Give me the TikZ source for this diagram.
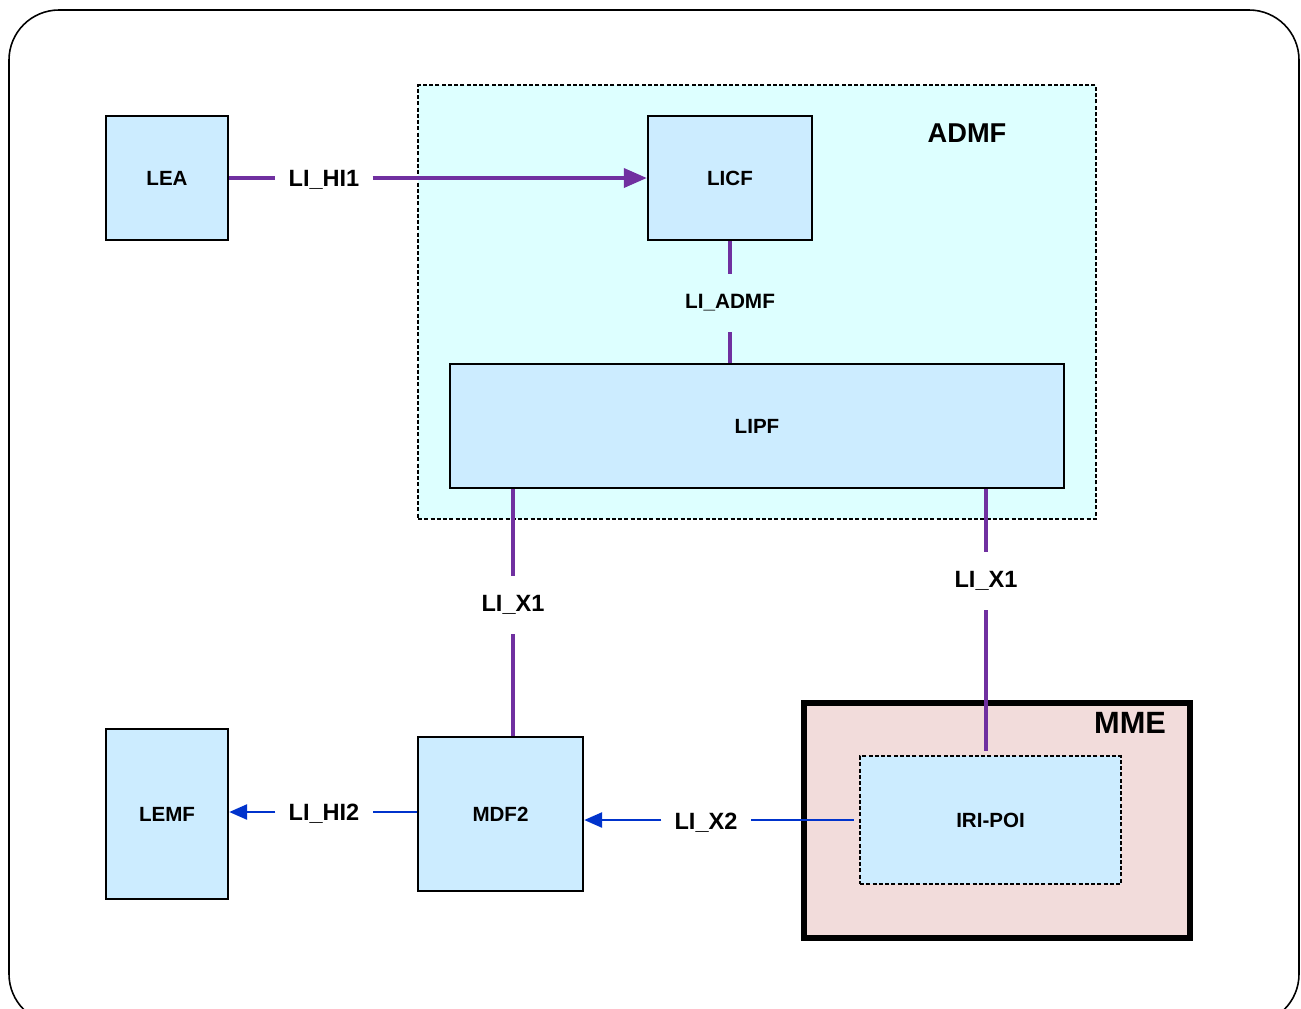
\documentclass[tikz,border=0pt]{standalone}
\usepackage{fontspec}
\setmainfont{Liberation Sans}
\usetikzlibrary{arrows.meta}
\definecolor{boxfill}{HTML}{CCECFF}
\definecolor{admffill}{HTML}{DDFFFF}
\definecolor{mmefill}{HTML}{F2DCDB}
\definecolor{lipurple}{HTML}{7030A0}
\definecolor{liblue}{HTML}{0033CC}
\tikzset{
  fbox/.style={draw=black, line width=1.35pt, fill=boxfill, font=\bfseries\fontsize{11.7}{14}\selectfont, inner sep=0pt},
  dotbox/.style={draw=black, line width=1.4pt, dash pattern=on 0.08cm off 0.045cm, inner sep=0pt},
  hlbl/.style={font=\bfseries\fontsize{13.4}{16}\selectfont, inner xsep=0.26cm, inner ysep=2pt},
  vlbl/.style={font=\bfseries\fontsize{13.4}{16}\selectfont, minimum height=1.16cm, inner sep=1pt},
  pline/.style={draw=lipurple, line width=2.1pt},
  bline/.style={draw=liblue, line width=1.5pt},
  parrow/.style={pline, -{Triangle[length=0.46cm,width=0.38cm]}},
  barrow/.style={bline, -{Triangle[length=0.36cm,width=0.3cm]}},
}
\begin{document}
\begin{tikzpicture}[x=0.02cm, y=-0.02cm]
\useasboundingbox (0,0) rectangle (1301,1008);
\clip (0,0) rectangle (1301,1008);
\draw[line width=0.9pt, rounded corners=1cm] (9,10) rectangle (1299,1024);
% containers
\node[dotbox, fill=admffill, minimum width=13.56cm, minimum height=8.68cm] (ADMF) at (757,302) {};
\node[font=\bfseries\fontsize{15.5}{18}\selectfont] (admft) at (967,133) {ADMF};
\node[draw=black, line width=3pt, fill=mmefill, minimum width=7.72cm, minimum height=4.7cm, inner sep=0pt] (MME) at (997,820.5) {};
\node[font=\bfseries\fontsize{17.5}{20}\selectfont] (mmet) at (1130,723) {MME};
% boxes
\node[fbox, minimum width=2.44cm, minimum height=2.48cm] (LEA) at (167,178) {LEA};
\node[fbox, minimum width=3.28cm, minimum height=2.48cm] (LICF) at (730,178) {LICF};
\node[fbox, minimum width=12.28cm, minimum height=2.48cm] (LIPF) at (757,426) {LIPF};
\node[fbox, minimum width=2.44cm, minimum height=3.4cm] (LEMF) at (167,814) {LEMF};
\node[fbox, minimum width=3.3cm, minimum height=3.08cm] (MDF2) at (500.5,814) {MDF2};
\node[dotbox, fill=boxfill, minimum width=5.22cm, minimum height=2.56cm, font=\bfseries\fontsize{11.7}{14}\selectfont] (IRI) at (990.5,820) {IRI-POI};
% labels
\node[hlbl] (hi1) at (324,179.5) {LI\_HI1};
\node[vlbl, font=\bfseries\fontsize{11.8}{14}\selectfont] (ladmf) at (730,303) {LI\_ADMF};
\node[vlbl] (x1a) at (513,605) {LI\_X1};
\node[vlbl] (x1b) at (986,581) {LI\_X1};
\node[hlbl] (x2) at (706,822.5) {LI\_X2};
\node[hlbl] (hi2) at (324,813.5) {LI\_HI2};
% connectors
\draw[pline] (LEA.east) -- (hi1.west |- LEA.east);
\draw[parrow] (hi1.east |- LICF.west) -- (LICF.west);
\draw[pline] (LICF.south) -- (ladmf.north);
\draw[pline] (ladmf.south) -- (ladmf.south |- LIPF.north);
\draw[pline] (LIPF.south -| x1a) -- (x1a.north);
\draw[pline] (x1a.south) -- (x1a.south |- MDF2.north);
\draw[pline] (LIPF.south -| x1b) -- (x1b.north);
\draw[pline] (x1b.south) -- ([yshift=0.08cm]x1b.south |- IRI.north);
\draw[bline] ([xshift=-0.1cm]IRI.west) -- (x2.east |- IRI.west);
\draw[barrow] (x2.west |- IRI.west) -- (x2.west |- IRI.west -| MDF2.east);
\draw[bline] (MDF2.west |- 0,812) -- (hi2.east |- 0,812);
\draw[barrow] (hi2.west |- 0,812) -- (LEMF.east |- 0,812);
\end{tikzpicture}
\end{document}
